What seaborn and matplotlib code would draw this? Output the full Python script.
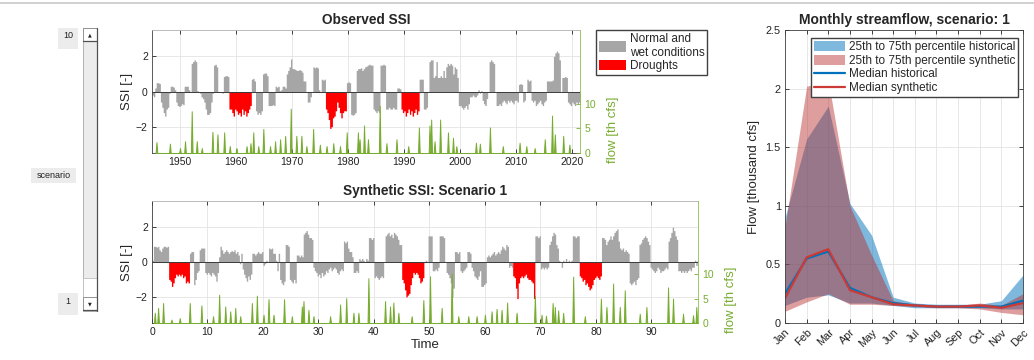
import seaborn as sns
import matplotlib.pyplot as plt
from matplotlib.patches import Rectangle, Patch
from matplotlib.lines import Line2D
import numpy as np
import pandas as pd

# observed SSI, quarterly values from 1945.0 (4 per year)
obs_start = 1945.0
obs_ssi = [
    -0.2, -0.3, 0.2, 0.5,    0.5, 0.45, -0.6, -0.9,   -1.2, -1.4, -1.0, -0.9,   -0.1, 0.3, 0.3, 0.25,
    0.1, -0.6, -0.8, -0.85,  -0.8, -0.7, -0.75, 0.3,  0.3, 0.3, 0.1, 0.0,      1.6, 1.7, 1.8, 1.7,
    0.05, 0.0, -0.1, -0.3,   -0.4, -0.6, -1.0, -1.3,  -1.3, -1.2, -0.6, -0.1,  1.5, 1.55, 1.4, 0.0,
    -0.05, 0.0, -0.1, 0.85,  0.9, 0.9, 0.85, -1.0,    -1.0, -1.2, -1.4, -1.0,  -1.1, -1.3, -1.2, -1.4,
    -1.0, -1.3, -1.1, -1.4,  -1.2, -1.0, -0.8, 0.7,   0.75, 0.6, -1.1, -1.3,   -1.2, -1.3, -1.1, 1.0,
    1.05, 1.05, 0.9, -0.8,   -0.8, -0.8, -0.75, -0.8, 0.3, 0.25, 0.3, 0.05,    0.1, 0.3, 0.3, 0.2,
    1.0, 1.2, 1.4, 1.85,     1.3, 1.3, 1.25, 1.2,     1.2, 1.25, 1.2, 1.1,     0.6, 0.6, 0.0, -0.6,
    -0.6, -0.3, 0.0, 1.4,    1.35, 1.4, 1.35, 0.1,    0.0, 0.7, 0.65, 0.7,     -1.0, -1.2, -1.6, -2.1,
    -2.0, -1.5, -1.4, -1.1,  -0.6, -0.9, -1.2, -1.5,  -1.2, -1.1, -1.1, 0.5,   0.55, 0.5, -1.3, -1.35,
    -1.3, -1.2, 1.2, 1.3,    1.3, 1.35, 1.2, 1.3,     1.4, 1.45, 1.5, 1.55,    1.5, 1.5, -1.0, -1.1,
    -1.2, -1.1, -1.2, 1.5,   1.5, 1.55, 1.5, -1.0,    -1.0, -0.9, -1.0, -1.0,  -0.9, -1.0, -1.0, 0.2,
    0.2, 0.15, -1.0, -1.2,   -1.1, -1.4, -1.2, -1.0,  -1.3, -1.1, -1.4, -1.2,  -1.0, -1.3, -1.1, 0.7,
    0.7, 0.7, -1.0, -1.0,    -0.9, 0.0, 1.7, 1.8,     1.8, 0.8, 0.9, 1.7,      0.8, 0.8, 0.9, 0.8,
    1.2, 0.8, 1.4, 1.6,      1.5, 1.6, 1.5, 1.0,      1.4, 1.3, 0.8, -0.8,     -0.8, -0.9, -1.0, -0.9,
    -0.8, -1.0, -0.7, -0.3,  -0.3, -0.2, -0.3, -0.3,  -0.2, 0.1, -0.1, 0.05,   -0.5, -0.7, -0.8, -0.4,
    0.0, 1.7, 1.8, 1.7,      1.6, 0.0, -0.8, -0.8,    -0.7, -0.8, -0.6, -0.5,  -0.6, -0.7, -0.5, -0.6,
    -0.5, -0.6, -0.7, -0.5,  -0.5, -0.6, 0.4, 0.45,   0.4, -0.6, -0.5, 0.0,    0.7, 0.6, 0.65, -0.5,
    -0.6, -0.5, -0.8, -0.7,  -0.6, -0.5, -0.7, -0.8,  -0.6, -0.5, 0.6, 0.6,    0.6, 0.6, 0.65, 2.0,
    2.2, 2.3, 2.2, 1.8,      0.0, 0.8, 0.8, 0.85,     0.8, -0.6, -0.7, -0.8,   -0.6, -0.7, -0.8, -0.6,
    -0.7, -0.6, -0.75, -0.7,
]
obs_drought_start = [1958.75, 1976.0, 1989.5]
obs_drought_end = [1962.75, 1979.75, 1992.75]

obs_flow_years = [1945.8, 1948.2, 1950.0, 1950.9, 1952.1, 1953.0, 1953.9, 1955.8, 1956.7, 1957.9,
                  1958.9, 1960.1, 1961.9, 1962.6, 1963.1, 1964.0, 1964.9, 1966.1, 1967.0, 1967.9,
                  1968.8, 1969.8, 1970.8, 1971.7, 1972.6, 1973.8, 1975.0, 1976.2, 1977.4, 1978.6,
                  1979.8, 1981.8, 1982.1, 1982.9, 1983.6, 1985.7, 1986.9, 1988.7, 1990.8, 1992.7,
                  1994.6, 1994.9, 1995.5, 1996.5, 1997.9, 1998.8, 1999.4, 2002.9, 2003.6, 2005.4,
                  2007.7, 2010.7, 2011.9, 2013.4, 2015.2, 2016.5, 2017.0, 2018.5, 2019.6]
obs_flow_vals = [2.2, 1.9, 1.0, 2.4, 8.5, 2.4, 1.0, 4.3, 3.8, 4.2,
                 1.4, 1.0, 1.4, 2.0, 4.2, 1.4, 4.9, 1.4, 2.4, 2.8,
                 3.5, 9.0, 3.5, 3.5, 1.4, 4.9, 1.7, 1.4, 2.0, 1.4,
                 4.2, 4.2, 2.8, 5.6, 2.8, 9.6, 2.0, 2.8, 1.4, 5.2,
                 5.6, 6.8, 2.4, 6.8, 4.2, 3.1, 1.4, 2.1, 1.9, 5.2,
                 1.4, 2.1, 1.4, 1.0, 2.8, 7.6, 3.8, 3.5, 1.7]

# synthetic SSI (scenario 1), quarterly values from t = 0
syn_start = 0.0
syn_ssi = [
    0.1, 0.9, 0.9, 0.85,     0.9, 0.7, 0.6, 0.8,      0.9, 0.9, 0.85, 0.9,     -1.0, -1.1, -1.4, -1.2,
    -0.9, -0.7, -0.8, -0.7,  -0.8, -0.7, -0.9, -0.8,  -1.2, -1.1, -1.2, 0.5,   0.6, 0.6, -1.3, -1.0,
    -0.6, -0.5, 0.7, 0.8,    0.8, 0.8, -0.6, -0.7,    -0.6, -0.7, -0.8, -0.6,  -0.7, -0.8, -1.1, -0.6,
    0.3, 0.9, 0.7, 0.5,      0.6, 0.7, 0.6, 0.5,      0.6, 0.65, 0.6, 0.7,     0.5, 0.6, 0.4, -0.1,
    0.5, -0.4, -0.7, -0.9,   -1.1, -0.8, -1.0, -0.7,  0.5, 0.5, 0.4, 0.5,      0.6, 0.5, 0.5, 0.6,
    -0.2, -0.1, 0.1, 0.0,    0.8, 0.75, 0.8, 0.5,     0.5, 0.1, -0.5, 0.5,     -1.0, -1.2, -1.3, -1.1,
    1.0, 1.0, 0.9, -1.0,     -1.1, -1.2, -1.0, -1.2,  0.4, 0.4, 0.3, 0.4,      0.3, 1.6, 1.7, 1.8,
    1.6, 1.4, 1.4, 1.3,      -0.3, -0.5, -0.6, -0.8,  -0.7, -0.9, -0.6, -0.8,  -0.7, -0.5, -0.6, -0.4,
    -0.3, -0.5, -0.4, -0.3,  -0.4, -0.6, -0.7, -0.5,  -0.4, -0.5, 1.2, 1.1,    1.2, 0.8, 0.6, 0.6,
    0.3, -0.6, -0.6, -0.5,   -0.6, 0.2, 0.1, 0.2,     0.1, 0.0, 0.2, 0.1,      1.4, 1.4, 1.3, 1.4,
    -0.9, -0.8, -0.9, -1.0,  -0.9, -0.8, -0.9, 0.0,   1.5, 1.6, 1.7, 1.5,      1.6, 1.4, 1.7, 1.6,
    1.5, 1.3, 1.0, 1.0,      -1.0, -1.2, -1.6, -2.0,  -1.9, -1.8, -1.3, -0.9,  -0.6, -0.7, -0.6, -0.7,
    -0.9, -1.2, -1.1, -0.9,  0.0, 0.1, 0.0, 1.5,      1.5, 1.5, -0.5, -0.5,    -0.4, -0.5, -0.3, 1.5,
    1.5, 1.5, 1.4, 0.0,      -0.6, -0.7, -0.9, -1.2,  -2.0, -1.5, 0.6, 0.6,    0.5, 0.6, -0.5, -0.6,
    -0.5, -0.4, -0.3, 0.6,   0.6, 0.5, -0.3, -0.5,    -0.8, -0.9, -1.0, -0.8,  -0.5, -1.4, -1.4, -1.3,
    -1.2, 0.3, 0.4, 0.3,     0.4, 0.5, 0.6, 0.4,      0.5, 0.6, 0.5, 0.7,      0.9, 0.8, 0.7, 1.0,
    0.9, -0.3, -0.2, -0.3,   -0.8, -0.9, -1.5, -2.1,  -1.2, -0.9, -0.8, -0.9,  -0.8, -0.7, -0.9, -1.0,
    -1.0, -1.1, -1.2, -2.1,  1.5, 1.5, 1.4, 1.5,      -0.4, -0.3, -0.4, -0.3,  -0.4, -0.3, 1.0, 1.2,
    1.5, 1.7, 1.6, 1.0,      0.8, 0.1, 0.0, -0.3,     0.1, 0.0, 0.2, 0.0,      0.1, 0.0, 0.1, 1.5,
    1.5, 1.4, 1.5, 1.5,      -0.8, -0.9, -1.1, -1.0,  -1.3, -1.2, -1.4, -1.6,  -1.5, -1.3, -1.0, -0.9,
    -0.8, -0.9, -1.0, -0.8,  1.4, 1.4, 1.3, 1.0,      1.2, 1.3, 1.5, 1.3,      1.5, 1.7, 1.8, 1.9,
    1.2, 0.8, 0.7, 0.8,      0.6, 0.7, 0.6, 0.5,      -1.2, -1.3, -1.2, -1.1,  -1.3, -1.0, -0.9, 1.0,
    1.1, 1.3, 1.4, 1.5,      1.4, 1.2, 1.0, -0.3,     -0.4, -0.5, -0.6, -0.5,  -0.3, -0.4, -0.6, -0.5,
    -0.5, -0.4, -0.3, -0.4,  1.2, 1.4, 1.7, 2.0,      1.8, 1.5, 1.3, -0.5,     -0.5, -0.6, -0.5, -0.6,
    -0.5, -0.6, -0.5, -0.4,  -0.5, -0.3, -0.3, 0.1,   -0.2, 0.1,
]
syn_drought_start = [3.0, 45.0, 65.0, 77.0]
syn_drought_end = [6.75, 49.0, 69.0, 81.0]

syn_flow_time = [0.5, 1.1, 2.0, 3.5, 5.0, 6.8, 8.9, 11.0, 12.1, 13.2,
                 14.1, 15.0, 15.9, 18.0, 18.9, 20.1, 21.0, 21.9, 23.8, 25.2,
                 27.0, 27.3, 28.2, 29.1, 32.1, 33.9, 35.0, 36.3, 37.2, 39.0,
                 42.0, 42.9, 43.5, 44.4, 46.8, 48.9, 50.1, 52.2, 54.0, 55.2,
                 57.0, 58.5, 60.0, 61.2, 62.1, 63.0, 64.0, 65.7, 69.0, 70.2,
                 71.0, 72.2, 72.6, 73.2, 74.1, 75.9, 78.0, 80.9, 81.9, 83.1,
                 84.3, 85.2, 87.9, 89.1, 93.0, 93.9, 95.7, 97.5, 98.1]
syn_flow_vals = [2.1, 3.1, 4.1, 0.7, 1.0, 4.1, 3.6, 1.4, 5.8, 3.4,
                 2.4, 3.1, 1.4, 4.1, 5.6, 1.7, 4.9, 1.7, 4.9, 1.4,
                 3.4, 4.5, 2.7, 1.4, 1.4, 3.8, 5.1, 2.1, 2.1, 9.2,
                 4.5, 3.4, 4.2, 2.1, 1.4, 4.7, 9.6, 3.1, 10.1, 1.4,
                 1.4, 1.4, 1.7, 2.4, 2.9, 2.7, 4.2, 2.1, 5.6, 1.7,
                 1.5, 4.1, 3.3, 2.6, 2.1, 9.5, 1.4, 5.0, 3.3, 8.1,
                 3.3, 6.7, 1.9, 3.3, 7.3, 5.0, 1.9, 1.6, 3.3]

# monthly streamflow (thousand cfs)
months = ['Jan', 'Feb', 'Mar', 'Apr', 'May', 'Jun', 'Jul', 'Aug', 'Sep', 'Oct', 'Nov', 'Dec']
hist_p25 = [0.15, 0.22, 0.24, 0.17, 0.17, 0.15, 0.13, 0.13, 0.13, 0.13, 0.12, 0.12]
hist_p75 = [0.90, 1.57, 1.85, 1.02, 0.75, 0.22, 0.17, 0.16, 0.16, 0.16, 0.19, 0.41]
syn_p25 = [0.10, 0.18, 0.25, 0.16, 0.16, 0.15, 0.14, 0.13, 0.13, 0.12, 0.09, 0.07]
syn_p75 = [0.82, 2.02, 2.07, 1.00, 0.58, 0.19, 0.16, 0.15, 0.15, 0.17, 0.15, 0.25]
hist_median = [0.25, 0.55, 0.61, 0.30, 0.22, 0.17, 0.15, 0.14, 0.14, 0.14, 0.14, 0.19]
syn_median = [0.21, 0.56, 0.63, 0.28, 0.22, 0.16, 0.15, 0.14, 0.14, 0.15, 0.13, 0.17]

sns.set_theme(style='ticks')
plt.rcParams['font.family'] = ['Liberation Sans', 'DejaVu Sans']

W, H = 1034, 360
gray = '#a6a6a6'
green = '#77ac30'
green_axis = '#8cc04a'
blue = (0, 0.447, 0.741)
red_band = (0.72, 0.16, 0.16)
red_line = '#cc3a35'
edge = '#404040'

fig = plt.figure(figsize=(W / 100, H / 100), dpi=100)

# ---- UI chrome: separator line and scenario slider (pixel coords)
ui = fig.add_axes([0, 0, 1, 1])
ui.set_xlim(0, W)
ui.set_ylim(H, 0)
ui.axis('off')
ui.axhline(3, color='#c8c8c8', lw=1.2)
ui.add_patch(Rectangle((83, 28), 14, 283, facecolor='#ececec', edgecolor='#a8a8a8', lw=0.6))
ui.add_patch(Rectangle((83, 278), 14, 19, facecolor='white', edgecolor='#c0c0c0', lw=0.6))
for y0 in (28, 297):
    ui.add_patch(Rectangle((83, y0), 14, 13, facecolor='white', edgecolor='#888888', lw=0.6))
ui.plot([97, 97], [28, 311], color='#505050', lw=0.9)
ui.plot([83, 97], [41, 41], color='#505050', lw=0.9)
ui.plot([83, 97], [310, 310], color='#505050', lw=0.9)
ui.text(90, 34.5, '\u25b2', fontsize=3.5, ha='center', va='center', family='DejaVu Sans')
ui.text(90, 303.5, '\u25bc', fontsize=3.5, ha='center', va='center', family='DejaVu Sans')
for txt, (x0, y0, w, h), ty in [('10', (58, 28, 20, 21), 35),
                                ('scenario', (31, 168, 45, 15), 175.5),
                                ('1', (58, 293, 20, 22), 302)]:
    ui.add_patch(Rectangle((x0, y0), w, h, facecolor='#ececec', edgecolor='none'))
    ui.text(x0 + w / 2, ty, txt, fontsize=6.5, ha='center', va='center', color='#222222')


def frac(x0, y0, x1, y1):
    return [x0 / W, 1 - y1 / H, (x1 - x0) / W, (y1 - y0) / H]


def ssi_panel(rect, start, vals, d_start, d_end, flow_t, flow_v, xlim, title):
    ax = fig.add_axes(frac(*rect))
    t = start + 0.25 * np.arange(len(vals))
    v = np.array(vals)
    dr = np.zeros(len(t), bool)
    for s, e in zip(d_start, d_end):
        dr |= (t >= s) & (t < e)
    te = np.append(t, t[-1] + 0.25)
    g = np.append(np.where(dr, 0, v), 0)
    r = np.append(np.where(dr, v, 0), 0)
    ax.fill_between(te, 0, g, step='post', color=gray, lw=0)
    ax.fill_between(te, 0, r, step='post', color='red', lw=0)
    ax.axhline(0, color='#3a3a3a', lw=0.7)
    ax.set_xlim(*xlim)
    ax.set_ylim(-3.5, 3.5)
    ax.set_yticks([-2, 0, 2])
    ax.grid(True, color='#e3e3e3', lw=0.6)
    ax.set_axisbelow(True)
    ax.tick_params(direction='in', length=3, width=0.6, labelsize=7.5, top=True, pad=3, colors='#222222')
    for sp in ['left', 'bottom']:
        ax.spines[sp].set_color(edge)
        ax.spines[sp].set_linewidth(0.6)
    ax.spines['top'].set_color('#b0b0b0')
    ax.spines['top'].set_linewidth(0.6)
    ax.spines['right'].set_visible(False)
    ax.set_ylabel('SSI [-]', fontsize=9.5, labelpad=2)
    ax.set_title(title, fontsize=9.8, fontweight='bold', pad=4)

    ax2 = ax.twinx()
    hw = 0.15
    pts = sorted([(tt - hw, 0.0) for tt in flow_t] + list(zip(flow_t, flow_v)) +
                 [(tt + hw, 0.0) for tt in flow_t])
    fx = [p[0] for p in pts]
    fy = [p[1] for p in pts]
    ax2.fill_between(fx, 0, fy, color=green, edgecolor=green, lw=0.7)
    ax2.set_ylim(0, 25)
    ax2.set_yticks([0, 5, 10])
    ax2.tick_params(direction='in', length=3, width=0.6, labelsize=7.5, colors=green, pad=3)
    for sp in ['left', 'top', 'bottom']:
        ax2.spines[sp].set_visible(False)
    ax2.spines['right'].set_color(green_axis)
    ax2.spines['right'].set_linewidth(0.6)
    ax2.set_ylabel('flow [th cfs]', fontsize=9.5, color=green)
    width_px = rect[2] - rect[0]
    ax2.yaxis.set_label_coords(1 + 27 / width_px, 0.19)
    return ax


ax_obs = ssi_panel((152, 30, 580, 153), obs_start, obs_ssi, obs_drought_start, obs_drought_end,
                   obs_flow_years, obs_flow_vals, (1945, 2021.5), 'Observed SSI')
ax_obs.set_xticks(np.arange(1950, 2021, 10))

ax_syn = ssi_panel((152, 201, 698, 323), syn_start, syn_ssi, syn_drought_start, syn_drought_end,
                   syn_flow_time, syn_flow_vals, (0, 98.4), 'Synthetic SSI: Scenario 1')
ax_syn.set_xticks(np.arange(0, 91, 10))
ax_syn.set_xlabel('Time', fontsize=9.5, labelpad=1)

fig.legend(handles=[Patch(facecolor=gray, edgecolor='none'), Patch(facecolor='red', edgecolor='none')],
           labels=['Normal and\nwet conditions', 'Droughts'],
           loc='upper left', bbox_to_anchor=(596 / W, 1 - 30 / H), fontsize=8.5,
           frameon=True, fancybox=False, edgecolor=edge, framealpha=1,
           handlelength=2.3, handleheight=1.0, handletextpad=0.3, borderpad=0.25,
           labelspacing=0.1, borderaxespad=0)

# ---- monthly streamflow panel
ax3 = fig.add_axes(frac(785, 30, 1023, 323))
mx = np.arange(1, 13)
ax3.fill_between(mx, hist_p25, hist_p75, color=blue, alpha=0.5, lw=0)
ax3.fill_between(mx, syn_p25, syn_p75, color=red_band, alpha=0.45, lw=0)
df = pd.DataFrame({
    'month': np.concatenate([mx, mx]),
    'flow': hist_median + syn_median,
    'series': ['Median historical'] * 12 + ['Median synthetic'] * 12,
})
sns.lineplot(data=df, x='month', y='flow', hue='series', palette=[blue, red_line],
             linewidth=1.6, ax=ax3, legend=False)
ax3.set_xlim(1, 12)
ax3.set_ylim(0, 2.5)
ax3.set_xticks(mx)
ax3.set_xticklabels(months, rotation=45, ha='right', rotation_mode='anchor')
ax3.set_yticks([0, 0.5, 1, 1.5, 2, 2.5])
ax3.set_yticklabels(['0', '0.5', '1', '1.5', '2', '2.5'])
ax3.grid(True, color='#e3e3e3', lw=0.6)
ax3.set_axisbelow(True)
ax3.tick_params(direction='in', length=3, width=0.6, labelsize=7.8, top=True, right=True,
                pad=3, colors='#222222')
for sp in ax3.spines.values():
    sp.set_color(edge)
    sp.set_linewidth(0.6)
ax3.set_xlabel('')
ax3.set_ylabel('Flow [thousand cfs]', fontsize=9.5, labelpad=4)
ax3.set_title('Monthly streamflow, scenario: 1', fontsize=10, fontweight='bold', pad=4)
ax3.legend(handles=[Patch(facecolor=blue, alpha=0.5, edgecolor='none'),
                    Patch(facecolor=red_band, alpha=0.45, edgecolor='none'),
                    Line2D([], [], color=blue, lw=1.6),
                    Line2D([], [], color=red_line, lw=1.6)],
           labels=['25th to 75th percentile historical', '25th to 75th percentile synthetic',
                   'Median historical', 'Median synthetic'],
           loc='upper right', bbox_to_anchor=(1 - 5 / 238, 1 - 8 / 293), fontsize=8.5,
           frameon=True, fancybox=False, edgecolor=edge, framealpha=1,
           handlelength=2.6, handleheight=0.9, handletextpad=0.3, borderpad=0.25,
           labelspacing=0.15, borderaxespad=0)

fig.savefig('out.png', dpi=100)
